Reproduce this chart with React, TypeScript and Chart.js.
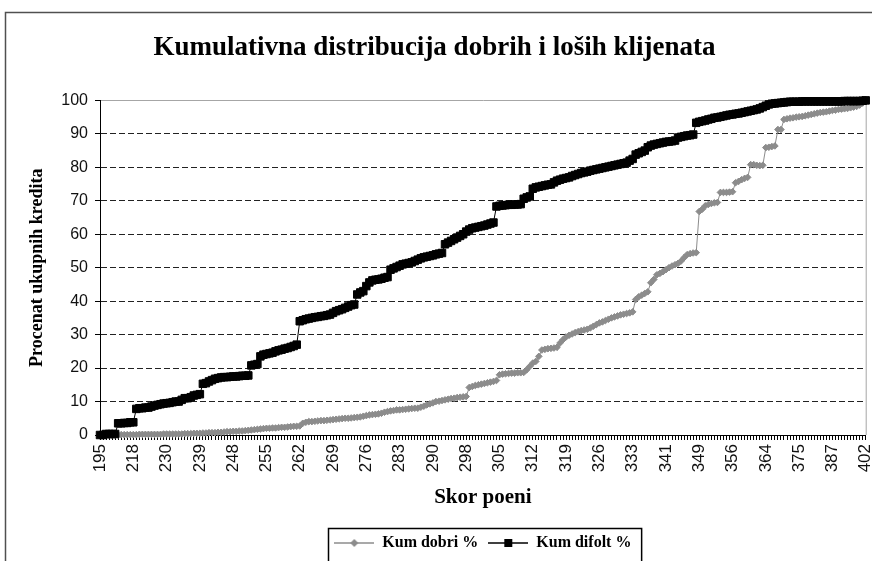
import React, { useEffect, useRef } from 'react';
import { Chart, registerables } from 'chart.js';

Chart.register(...registerables);

const TITLE = 'Kumulativna distribucija dobrih i loših klijenata';
const Y_TITLE = 'Procenat ukupnih kredita';
const X_TITLE = 'Skor poeni';
const SERIES_NAMES = ['Kum dobri %', 'Kum difolt %'];
const SERIES_COLORS = ['#8c8c8c', '#000000'];

// score labels shown on the x axis (one label every 11 categories)
const TICK_LABELS = ['195', '218', '230', '239', '248', '255', '262', '269', '276', '283', '290', '298',
  '305', '312', '319', '326', '333', '341', '349', '356', '364', '375', '387', '402'];
const CATEGORIES_PER_TICK = 11;

const Y_TICKS = [0, 10, 20, 30, 40, 50, 60, 70, 80, 90, 100];

// cumulative % of good clients
const KUM_DOBRI = [
  0, 0, 0, 0, 0, 0, 0, 0.1, 0.1, 0.1, 0.1, 0.1, 0.1, 0.2, 0.2, 0.2, 0.2, 0.2, 0.2, 0.2, 0.2, 0.3, 0.3, 0.3, 0.3, 0.3, 0.3,
  0.3, 0.4, 0.4, 0.4, 0.5, 0.5, 0.5, 0.6, 0.6, 0.7, 0.7, 0.7, 0.8, 0.8, 0.9, 1.0,
  1.0, 1.1, 1.1, 1.2, 1.2, 1.3, 1.4, 1.5, 1.6, 1.7, 1.8, 1.9, 2.0,
  2.0, 2.1, 2.1, 2.2, 2.3, 2.3, 2.4, 2.5, 2.6, 2.6, 2.7,
  3.5, 3.8, 4.0, 4.0, 4.1, 4.2, 4.3, 4.3, 4.4, 4.5,
  4.6, 4.7, 4.8, 4.9, 5.0, 5.0, 5.1, 5.2, 5.3, 5.4,
  5.6, 5.8, 6.0, 6.1, 6.2, 6.3, 6.5, 6.8, 7.0, 7.2, 7.3, 7.5,
  7.5, 7.6, 7.7, 7.8, 7.9, 8.0, 8.0, 8.3, 8.6, 9.0, 9.3, 9.6, 10.0,
  10.1, 10.3, 10.5, 10.7, 10.9, 11.0, 11.2, 11.3, 11.4, 11.5,
  14.2, 14.5, 14.8, 15.0, 15.2, 15.4, 15.6, 15.8, 16.0, 16.3,
  18.0, 18.2, 18.3, 18.4, 18.5, 18.5, 18.6, 18.6, 18.7, 19.5, 20.5, 21.5,
  22, 23.5, 25.4, 25.6, 25.8, 25.9, 26,
  26.2, 27.5, 28.5, 29.3, 29.8, 30.2, 30.6, 30.9, 31.2, 31.4,
  31.6, 32, 32.5, 33, 33.5, 33.8, 34.2, 34.6,
  35, 35.3, 35.6, 35.9, 36.1, 36.3, 36.5, 36.8,
  40.5, 41.3, 41.8, 42.3, 42.8, 45.5,
  46.5, 47.9, 48.3, 48.8, 49.4, 50, 50.5,
  50.9, 51.3, 52, 53, 53.9, 54.2, 54.4,
  54.5, 66.8, 67.5, 68.5, 68.9, 69.2, 69.4, 69.5,
  72.5, 72.5, 72.5, 72.6, 72.7, 75.4, 75.8, 76.3,
  76.7, 77, 80.8, 80.8, 80.6, 80.5, 80.6,
  85.9, 86, 86.2, 86.4, 91.3, 91.3,
  94.3, 94.5, 94.7, 94.8, 95, 95.1, 95.2,
  95.4, 95.6, 95.8, 96, 96.2, 96.4, 96.5, 96.6,
  96.8, 97, 97.1, 97.3, 97.4, 97.5, 97.6,
  97.8, 98, 98.2, 98.6, 99.2, 100,
];

// cumulative % of defaulted clients
const KUM_DIFOLT = [
  0, 0, 0.3, 0.3, 0.3, 0.3,
  3.5, 3.5, 3.6, 3.6, 3.8, 3.8,
  7.8, 8, 8, 8.2, 8.2, 8.5, 8.8,
  9, 9.2, 9.4, 9.5, 9.6, 9.8, 10, 10,
  10.5, 11, 11, 11.3, 11.8, 12, 12.2,
  15.3, 15.5, 16, 16.4, 16.8, 17,
  17.2, 17.3, 17.3, 17.4, 17.5, 17.5, 17.6, 17.7, 17.7, 17.8,
  20.8, 21, 21.2, 23.5, 24,
  24.2, 24.4, 24.6, 25, 25.3, 25.5,
  25.8, 26, 26.3, 26.6, 27,
  34, 34.3, 34.6, 34.8, 35,
  35.2, 35.3, 35.5, 35.6, 35.8, 36,
  36.5, 37, 37.3, 37.6,
  38, 38.4, 38.8, 39,
  42, 42.6, 43, 44.5, 45.6, 46.2, 46.4,
  46.5, 46.7, 47, 47.2,
  49.4, 49.8, 50.2, 50.6, 51, 51.2, 51.4,
  51.6, 52, 52.4, 52.8, 53.1, 53.3,
  53.5, 53.7, 54, 54.2, 54.4,
  57, 57.5, 58, 58.5,
  59, 59.5, 60, 60.8,
  61.4, 61.8, 62, 62.2, 62.4, 62.6, 62.9, 63.2, 63.5,
  68.3, 68.5, 68.6, 68.7, 68.8, 68.8, 68.9, 68.9, 69,
  70.6, 71, 71.3, 73.6, 74,
  74.2, 74.4, 74.6, 74.8, 74.9,
  75.5, 76, 76.3, 76.6, 76.8, 77,
  77.4, 77.7, 78, 78.3, 78.5, 78.7,
  79, 79.2, 79.4, 79.6, 79.8, 80,
  80.2, 80.4, 80.6, 80.8, 81, 81.2,
  81.4, 82, 82.5,
  83.8, 84.2, 84.6, 85, 86, 86.5,
  86.8, 87, 87.2, 87.4, 87.6, 87.7, 87.8, 88,
  88.9, 89.1, 89.3, 89.5, 89.6, 89.8,
  93.3, 93.6, 93.8, 94, 94.3, 94.5, 94.8,
  94.9, 95.1, 95.3, 95.5, 95.7,
  95.8, 96, 96.1, 96.3, 96.5, 96.7, 96.9, 97.1,
  97.3, 97.6, 98, 98.4, 98.8,
  99, 99.1, 99.2, 99.3, 99.4, 99.5,
  99.6, 99.6, 99.6, 99.6, 99.7, 99.7, 99.7, 99.7, 99.7, 99.7, 99.7, 99.7, 99.7, 99.7,
  99.7, 99.7, 99.7, 99.7, 99.8, 99.8, 99.8, 99.8, 99.8, 99.8, 99.9, 100,
];

const CATEGORIES = KUM_DIFOLT.map((_, i) =>
  i % CATEGORIES_PER_TICK === 0 ? TICK_LABELS[i / CATEGORIES_PER_TICK] ?? '' : '');

function makeLegendIcon(color: string, style: 'rectRot' | 'rect'): HTMLCanvasElement {
  const c = document.createElement('canvas');
  c.width = 40;
  c.height = 12;
  const g = c.getContext('2d')!;
  g.strokeStyle = color;
  g.lineWidth = 1.5;
  g.beginPath();
  g.moveTo(0, 6);
  g.lineTo(40, 6);
  g.stroke();
  g.fillStyle = color;
  if (style === 'rect') {
    g.fillRect(16, 2, 8, 8);
  } else {
    g.beginPath();
    g.moveTo(20, 2);
    g.lineTo(24, 6);
    g.lineTo(20, 10);
    g.lineTo(16, 6);
    g.closePath();
    g.fill();
  }
  return c;
}

const framePlugin = {
  id: 'frameAndLegendBox',
  beforeDraw(chart: any) {
    const { ctx, width, height } = chart;
    ctx.save();
    ctx.fillStyle = '#ffffff';
    ctx.fillRect(0, 0, width, height);
    ctx.strokeStyle = '#505050';
    ctx.lineWidth = 1.5;
    ctx.strokeRect(5.5, 12.5, width + 40, height + 40);
    ctx.restore();
  },
  beforeDatasetsDraw(chart: any) {
    const { ctx, chartArea: a } = chart;
    ctx.save();
    ctx.strokeStyle = '#a6a6a6';
    ctx.lineWidth = 1;
    ctx.beginPath();
    ctx.moveTo(a.right + 0.5, a.top);
    ctx.lineTo(a.right + 0.5, a.bottom);
    ctx.stroke();
    ctx.restore();
  },
  afterDraw(chart: any) {
    const boxes = chart.legend?.legendHitBoxes;
    if (!boxes || !boxes.length) return;
    const left = Math.min(...boxes.map((b: any) => b.left)) - 6;
    const right = Math.max(...boxes.map((b: any) => b.left + b.width)) + 10;
    const top = Math.min(...boxes.map((b: any) => b.top)) - 7;
    const { ctx, height } = chart;
    ctx.save();
    ctx.strokeStyle = '#000000';
    ctx.lineWidth = 1.5;
    ctx.strokeRect(Math.round(left) + 0.5, Math.round(top) + 0.5, right - left, height - top + 10);
    ctx.restore();
  },
};

export default function App() {
  const canvasRef = useRef<HTMLCanvasElement | null>(null);

  useEffect(() => {
    if (!canvasRef.current) return;
    const icons = [makeLegendIcon(SERIES_COLORS[0], 'rectRot'), makeLegendIcon(SERIES_COLORS[1], 'rect')];
    const chart = new Chart(canvasRef.current, {
      type: 'line',
      data: {
        labels: CATEGORIES,
        datasets: [
          {
            label: SERIES_NAMES[0],
            data: KUM_DOBRI,
            borderColor: SERIES_COLORS[0],
            backgroundColor: SERIES_COLORS[0],
            borderWidth: 1,
            pointStyle: 'rectRot',
            pointRadius: 3.3,
            pointBorderWidth: 1,
            pointBackgroundColor: SERIES_COLORS[0],
            pointBorderColor: SERIES_COLORS[0],
            tension: 0,
            clip: false,
            order: 1,
          },
          {
            label: SERIES_NAMES[1],
            data: KUM_DIFOLT,
            borderColor: SERIES_COLORS[1],
            backgroundColor: SERIES_COLORS[1],
            borderWidth: 1,
            pointStyle: 'rect',
            pointRadius: 5.3,
            pointBorderWidth: 1,
            pointBackgroundColor: SERIES_COLORS[1],
            pointBorderColor: SERIES_COLORS[1],
            tension: 0,
            clip: false,
            order: 0,
          },
        ],
      },
      options: {
        responsive: false,
        animation: false,
        events: [],
        layout: { padding: { left: 0, right: 3, top: 0, bottom: 0 } },
        plugins: {
          tooltip: { enabled: false },
          title: {
            display: true,
            text: TITLE,
            color: '#000',
            font: { family: "'Liberation Serif', 'Times New Roman', serif", size: 27, weight: 'bold' },
            padding: { top: 32, bottom: 36 },
          },
          legend: {
            display: true,
            position: 'bottom',
            fullSize: false,
            labels: {
              usePointStyle: true,
              pointStyleWidth: 40,
              padding: 10,
              color: '#000',
              font: { family: "'Liberation Serif', 'Times New Roman', serif", size: 16, weight: 'bold' },
              generateLabels: (c: any) =>
                c.data.datasets.map((ds: any, i: number) => ({
                  text: ds.label,
                  pointStyle: icons[i],
                  fillStyle: ds.backgroundColor,
                  strokeStyle: ds.borderColor,
                  lineWidth: 0,
                  hidden: false,
                  datasetIndex: i,
                  fontColor: '#000',
                })),
            },
          },
        },
        scales: {
          x: {
            type: 'category',
            offset: false,
            afterFit: (s: any) => {
              s.height = 90;
              s.paddingLeft = 0;
              s.paddingRight = 0;
            },
            grid: {
              display: true,
              drawOnChartArea: false,
              drawTicks: true,
              tickLength: 5,
              color: '#000',
              tickColor: '#000',
            },
            border: { display: true, color: '#000', width: 1 },
            ticks: {
              autoSkip: false,
              minRotation: 90,
              maxRotation: 90,
              padding: 4,
              color: '#111',
              font: { family: "'Liberation Sans', Arial, sans-serif", size: 17 },
            },
            title: {
              display: true,
              text: X_TITLE,
              color: '#000',
              font: { family: "'Liberation Serif', 'Times New Roman', serif", size: 21, weight: 'bold' },
              padding: { top: 0, bottom: 15 },
            },
          },
          y: {
            type: 'linear',
            min: 0,
            max: 100,
            afterFit: (s: any) => {
              s.width = 100;
            },
            afterBuildTicks: (s: any) => {
              s.ticks = Y_TICKS.map((v) => ({ value: v }));
            },
            grid: {
              display: true,
              drawOnChartArea: true,
              drawTicks: true,
              tickLength: 5,
              color: (c: any) =>
                c.tick && c.tick.value === 100 ? '#a6a6a6' : c.tick && c.tick.value === 0 ? 'rgba(0,0,0,0)' : '#222222',
              tickColor: '#000',
              lineWidth: 1,
            },
            border: {
              display: true,
              color: '#000',
              width: 1,
              dash: (c: any) => (c && c.tick && c.tick.value === 100 ? [] : [6, 3]),
            },
            ticks: {
              padding: 7,
              color: '#111',
              font: { family: "'Liberation Sans', Arial, sans-serif", size: 16 },
            },
            title: {
              display: true,
              text: Y_TITLE,
              color: '#000',
              font: { family: "'Liberation Serif', 'Times New Roman', serif", size: 18, weight: 'bold' },
              padding: { top: 27, bottom: 0 },
            },
          },
        },
      },
      plugins: [framePlugin],
    } as any);
    return () => chart.destroy();
  }, []);

  return (
    <div style={{ position: 'fixed', left: 0, top: 0, width: 872, height: 561, background: '#fff', overflow: 'hidden' }}>
      <canvas ref={canvasRef} width={872} height={561} style={{ display: 'block', width: 872, height: 561 }} />
    </div>
  );
}
